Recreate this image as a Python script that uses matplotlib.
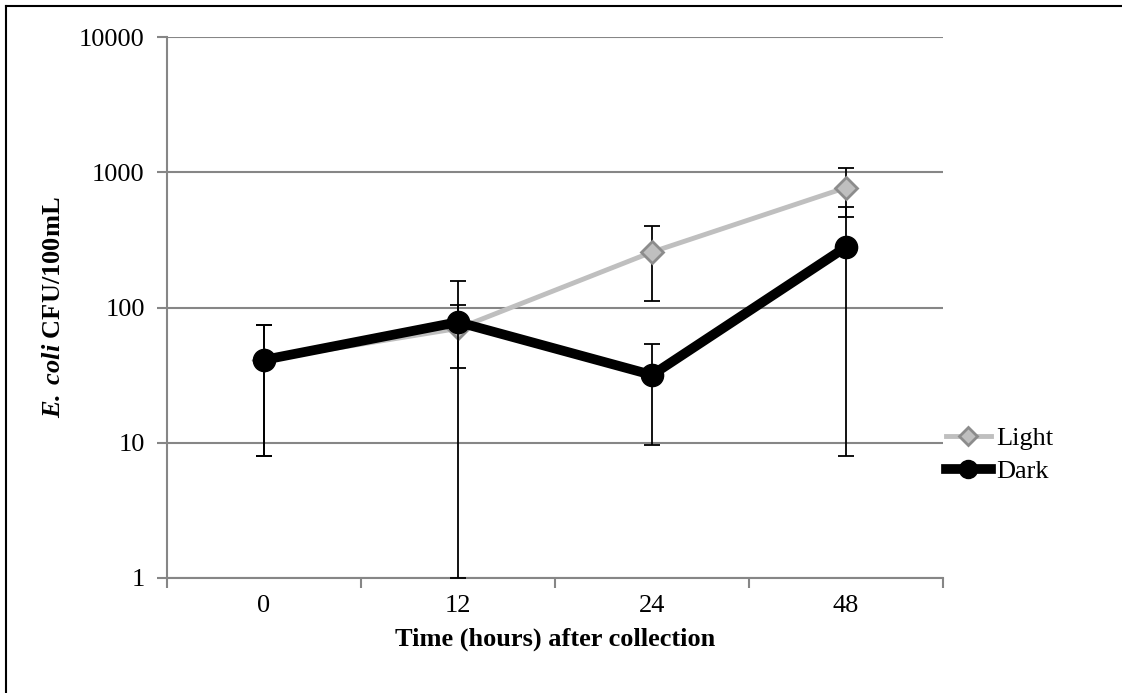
import numpy as np
import matplotlib.pyplot as plt
from matplotlib.lines import Line2D

plt.rcParams['font.family'] = ['Liberation Serif', 'DejaVu Serif']
plt.rcParams['mathtext.fontset'] = 'custom'
plt.rcParams['mathtext.bfit'] = 'Liberation Serif:italic:bold'
plt.rcParams['mathtext.rm'] = 'Liberation Serif'

# data
times = ['0', '12', '24', '48']
light = [41, 70, 257, 770]
light_err = [33, 34, 146, 300]
dark = [41, 78, 31.7, 280]
dark_err = [33, 78, 22, 272]

x = np.arange(len(times))
grid_col = '#868686'
fs = 19


def clipped(vals, errs):
    # Excel clips the lower bar at the axis floor (1)
    lo = [min(e, v - 1) for v, e in zip(vals, errs)]
    return [lo, errs]


fig = plt.figure(figsize=(11.22, 6.93), dpi=100)
ax = fig.add_axes([167 / 1122, 1 - 578 / 693, 776 / 1122, 541 / 693])

ax.set_yscale('log')
ax.set_ylim(1, 10000)
ax.set_xlim(-0.5, len(times) - 0.5)

ax.yaxis.grid(True, color=grid_col, linewidth=1.5)
ax.set_axisbelow(True)

# light series
ax.errorbar(x, light, yerr=clipped(light, light_err), fmt='none', ecolor='black',
            elinewidth=1.3, capsize=6, capthick=1.3, zorder=3)
ax.plot(x, light, color='#BFBFBF', linewidth=3.5, marker='D', markersize=11,
        markerfacecolor='#BFBFBF', markeredgecolor='#8C8C8C', markeredgewidth=2, zorder=4)

# dark series
ax.errorbar(x, dark, yerr=clipped(dark, dark_err), fmt='none', ecolor='black',
            elinewidth=1.3, capsize=6, capthick=1.3, zorder=5)
ax.plot(x, dark, color='black', linewidth=7, marker='o', markersize=16,
        markerfacecolor='black', markeredgecolor='black', zorder=6)

for s in ['top', 'right']:
    ax.spines[s].set_visible(False)
for s in ['left', 'bottom']:
    ax.spines[s].set_color(grid_col)
    ax.spines[s].set_linewidth(1.5)

ax.set_xticks(x)
ax.set_xticklabels(times)
ax.set_xticks(np.arange(len(times) + 1) - 0.5, minor=True)
ax.tick_params(axis='x', which='major', length=0, labelsize=fs, pad=12)
ax.tick_params(axis='x', which='minor', length=7, width=1.5, color=grid_col)
ax.set_yticks([1, 10, 100, 1000, 10000])
ax.set_yticklabels(['1', '10', '100', '1000', '10000'])
ax.yaxis.set_minor_locator(plt.NullLocator())
ax.tick_params(axis='y', length=7, width=1.5, color=grid_col, labelsize=fs, pad=9)

ax.set_xlabel('Time (hours) after collection', fontsize=fs, fontweight='bold', labelpad=8)
ax.set_ylabel(r'$\mathbfit{E.\,coli}$ CFU/100mL', fontsize=fs, fontweight='bold', labelpad=10)

handles = [
    Line2D([], [], color='#BFBFBF', linewidth=3.5, marker='D', markersize=9,
           markerfacecolor='#BFBFBF', markeredgecolor='#8C8C8C', markeredgewidth=2),
    Line2D([], [], color='black', linewidth=7, marker='o', markersize=13),
]
fig.legend(handles, ['Light', 'Dark'], loc='center left',
           bbox_to_anchor=(922 / 1122, 1 - 455 / 693), frameon=False, fontsize=fs,
           handlelength=1.7, handletextpad=0.2, labelspacing=0.35)

# frame around the figure (top and left edges visible)
fig.add_artist(Line2D([6 / 1122, 1], [1 - 6 / 693, 1 - 6 / 693], color='black', linewidth=1.5,
                      transform=fig.transFigure))
fig.add_artist(Line2D([6 / 1122, 6 / 1122], [0, 1 - 6 / 693], color='black', linewidth=1.5,
                      transform=fig.transFigure))

fig.savefig('out.png', dpi=100)
